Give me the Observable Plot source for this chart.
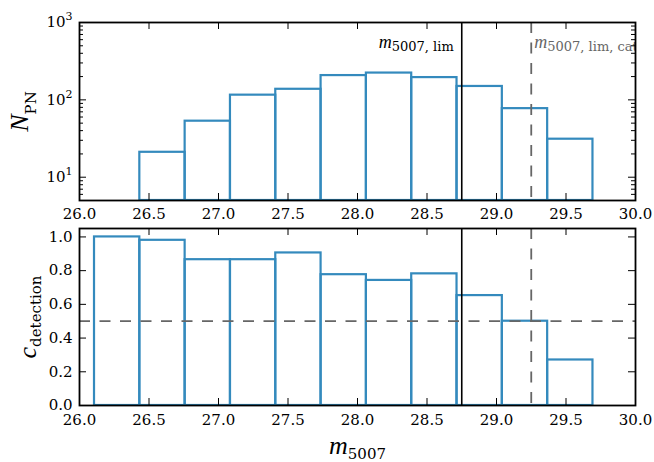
<!DOCTYPE html>
<html><head><meta charset="utf-8">
<script src="https://cdn.jsdelivr.net/npm/d3@7"></script>
<script src="https://cdn.jsdelivr.net/npm/@observablehq/plot@0.6"></script>
<style>
body{margin:0;background:#fff}
#chart svg{display:block}
</style>
</head><body><div id="chart"></div>
<script>
// ---- data ----
const binEdges = [26.108, 26.434, 26.760, 27.086, 27.412, 27.738, 28.064, 28.390, 28.716, 29.042, 29.368, 29.694];
const pnCounts = [0, 21, 53, 115, 137, 206, 222, 194, 149, 77, 31];
const completeness = [1.0, 0.98, 0.865, 0.865, 0.905, 0.776, 0.742, 0.781, 0.652, 0.5, 0.27];
const mLim = 28.75;
const mLimCat = 29.25;
const cThreshold = 0.5;
const xDomain = [26.0, 30.0];
const xTicks = [26.0, 26.5, 27.0, 27.5, 28.0, 28.5, 29.0, 29.5, 30.0];
const nDomain = [5, 1000];
const nMajorTicks = [10, 100, 1000];
const nMinorTicks = [6, 7, 8, 9, 20, 30, 40, 50, 60, 70, 80, 90, 200, 300, 400, 500, 600, 700, 800, 900];
const cDomain = [0, 1.05];
const cTicks = [0.0, 0.2, 0.4, 0.6, 0.8, 1.0];

// math labels: key -> [italic symbol, upright subscript]
const mathLabels = {
  "§lim": ["m", "5007, lim"],
  "§cat": ["m", "5007, lim, cat"],
  "§npn": ["N", "PN"],
  "§cdet": ["c", "detection"],
  "§m5007": ["m", "5007"]
};

const bins = binEdges.slice(0, -1).map((x1, i) => ({x1, x2: binEdges[i + 1], n: pnCounts[i], c: completeness[i]}));

const BLUE = "#348ABD", GREY = "#666666", DASH = "11,9.5";
const W = 654, ML = 79, MR = 19;
const style = {fontFamily: "DejaVu Serif", fontSize: "15px", background: "white", overflow: "visible"};
const MATH = "Liberation Serif", SUBF = "DejaVu Serif";

function ticksFor(h, mt, mb, xs, ys, major, minorYs) {
  const fh = h - mt - mb, fw = W - ML - MR;
  const m = [
    Plot.ruleX(xs, {x: d => d, insetTop: fh - major, stroke: "black", strokeWidth: 1}),
    Plot.ruleX(xs, {x: d => d, insetBottom: fh - major, stroke: "black", strokeWidth: 1}),
    Plot.ruleY(ys, {y: d => d, insetRight: fw - major, stroke: "black", strokeWidth: 1}),
    Plot.ruleY(ys, {y: d => d, insetLeft: fw - major, stroke: "black", strokeWidth: 1})
  ];
  if (minorYs) {
    m.push(Plot.ruleY(minorYs, {y: d => d, insetRight: fw - 4, stroke: "black", strokeWidth: 1}));
    m.push(Plot.ruleY(minorYs, {y: d => d, insetLeft: fw - 4, stroke: "black", strokeWidth: 1}));
  }
  return m;
}

// ---- top panel ----
const H1 = 222, MT1 = 22, MB1 = 22;
const topPlot = Plot.plot({
  width: W, height: H1, marginLeft: ML, marginRight: MR, marginTop: MT1, marginBottom: MB1,
  style,
  x: {domain: xDomain},
  y: {type: "log", domain: nDomain},
  marks: [
    Plot.rectY(bins.filter(d => d.n > 0), {x1: "x1", x2: "x2", y1: () => nDomain[0], y2: "n", fill: "none", stroke: BLUE, strokeWidth: 2.2, clip: true}),
    Plot.ruleX([mLim], {stroke: "black", strokeWidth: 1.6}),
    Plot.ruleX([mLimCat], {stroke: GREY, strokeWidth: 1.8, strokeDasharray: DASH}),
    Plot.text([mLim], {x: d => d, text: () => "§lim", frameAnchor: "top", dy: 25, dx: -8, textAnchor: "end", lineAnchor: "bottom"}),
    Plot.text([mLimCat], {x: d => d, text: () => "§cat", frameAnchor: "top", dy: 25, dx: 3, textAnchor: "start", lineAnchor: "bottom", fill: GREY, clip: true}),
    Plot.text(["§npn"], {text: d => d, frameAnchor: "left", dx: -52, rotate: -90, textAnchor: "middle", lineAnchor: "bottom"}),
    ...ticksFor(H1, MT1, MB1, xTicks, nMajorTicks, 7, nMinorTicks),
    Plot.frame({stroke: "black", strokeWidth: 1.8}),
    Plot.axisX({ticks: xTicks, tickSize: 0, tickPadding: 8, tickFormat: d3.format(".1f"), label: null}),
    Plot.axisY({ticks: nMajorTicks, tickSize: 0, tickPadding: 7, tickFormat: d => `10^${Math.round(Math.log10(d))}`, label: null})
  ]
});

// ---- bottom panel ----
const H2 = 240, MT2 = 6, MB2 = 57;
const botPlot = Plot.plot({
  width: W, height: H2, marginLeft: ML, marginRight: MR, marginTop: MT2, marginBottom: MB2,
  style,
  x: {domain: xDomain},
  y: {domain: cDomain},
  marks: [
    Plot.rectY(bins, {x1: "x1", x2: "x2", y: "c", fill: "none", stroke: BLUE, strokeWidth: 2.2, clip: true}),
    Plot.ruleY([cThreshold], {stroke: GREY, strokeWidth: 1.8, strokeDasharray: DASH}),
    Plot.ruleX([mLim], {stroke: "black", strokeWidth: 1.6}),
    Plot.ruleX([mLimCat], {stroke: GREY, strokeWidth: 1.8, strokeDasharray: DASH}),
    Plot.text(["§cdet"], {text: d => d, frameAnchor: "left", dx: -44, rotate: -90, textAnchor: "middle", lineAnchor: "bottom"}),
    Plot.text(["§m5007"], {text: d => d, frameAnchor: "bottom", dy: 48, textAnchor: "middle", lineAnchor: "bottom"}),
    ...ticksFor(H2, MT2, MB2, xTicks, cTicks, 7, null),
    Plot.frame({stroke: "black", strokeWidth: 1.8}),
    Plot.axisX({ticks: xTicks, tickSize: 0, tickPadding: 9, tickFormat: d3.format(".1f"), label: null}),
    Plot.axisY({ticks: cTicks, tickSize: 0, tickPadding: 7, tickFormat: d3.format(".1f"), label: null})
  ]
});

// ---- math-style labels (italic symbol + upright subscript) ----
const mathStyle = {
  "§lim": {sym: 18, sub: 13, shift: 3},
  "§cat": {sym: 18, sub: 13, shift: 3},
  "§npn": {sym: 26, sub: 15, shift: 8},
  "§cdet": {sym: 26, sub: 15, shift: 5},
  "§m5007": {sym: 26, sub: 15, shift: 5}
};
const NS = "http://www.w3.org/2000/svg";
[topPlot, botPlot].forEach(svg => {
  svg.querySelectorAll("text").forEach(t => {
    const key = t.textContent;
    if (!(key in mathLabels)) return;
    const [sym, sub] = mathLabels[key];
    const st = mathStyle[key];
    t.textContent = "";
    const a = document.createElementNS(NS, "tspan");
    a.textContent = sym;
    a.setAttribute("font-family", MATH); a.setAttribute("font-size", st.sym); a.setAttribute("font-style", "italic");
    const b = document.createElementNS(NS, "tspan");
    b.textContent = sub;
    b.setAttribute("font-family", SUBF); b.setAttribute("font-size", st.sub); b.setAttribute("dy", st.shift);
    t.appendChild(a); t.appendChild(b);
  });
});
// superscript exponents on log tick labels
topPlot.querySelectorAll('g[aria-label="y-axis tick label"] text').forEach(t => {
  const [base, exp] = t.textContent.split("^");
  t.textContent = "";
  const a = document.createElementNS(NS, "tspan");
  a.textContent = base;
  const b = document.createElementNS(NS, "tspan");
  b.textContent = exp; b.setAttribute("font-size", 11); b.setAttribute("dy", -7);
  t.appendChild(a); t.appendChild(b);
});

document.getElementById("chart").append(topPlot, botPlot);
</script>
</body></html>
